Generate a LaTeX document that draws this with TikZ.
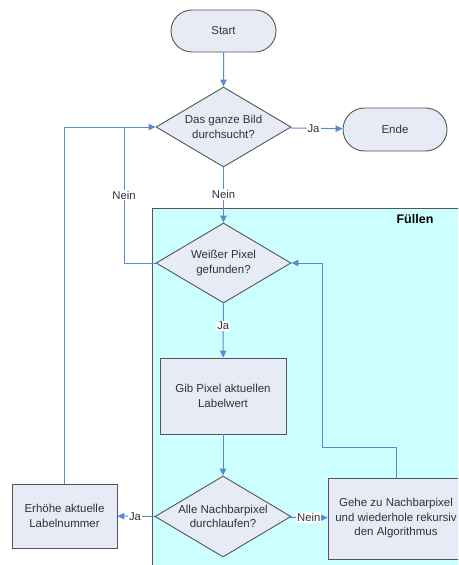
\documentclass[tikz,border=0pt]{standalone}
\usepackage{fontspec}
\setmainfont{Liberation Sans}
\usetikzlibrary{arrows.meta,shapes.geometric,shapes.misc}
\definecolor{boxfill}{HTML}{E6EBF5}
\definecolor{boxdraw}{HTML}{555555}
\definecolor{flowblue}{HTML}{5A8AD2}
\definecolor{fuellcyan}{HTML}{CCFFFF}
\tikzset{
  base/.style={draw=boxdraw, fill=boxfill, line width=.9pt, align=center,
    text=black!80, font=\fontsize{11.5}{14.5}\selectfont, inner sep=0pt},
  terminal/.style={base, rounded rectangle, minimum width=105pt, minimum height=42pt},
  decision/.style={base, diamond, aspect=1.85, minimum width=135pt, minimum height=80pt},
  process/.style={base, rectangle},
  flow/.style={-{Triangle[length=7pt,width=6.5pt]}, draw=flowblue, line width=1pt},
  flowline/.style={draw=flowblue, line width=1pt},
  edgelabel/.style={fill=white, inner sep=1pt, text=black!80,
    font=\fontsize{11.3}{14}\selectfont},
}

\begin{document}
\begin{tikzpicture}[x=1pt, y=-1pt]

\clip (0,0) rectangle (458,565);

%%%%%%%%%%%%%%
% Fuellen frame
%%%%%%%%%%%%%%
\draw [fill=fuellcyan, draw=boxdraw, line width=.9pt] (152,208) rectangle (475,580);
\node (fuellen) at (415,219) {\fontsize{12.5}{15}\selectfont\bfseries Füllen};

%%%%%%%%%%%%%%
% Nodes
%%%%%%%%%%%%%%
  \node [terminal] (start) at (223.5,31) {Start};
  \node [decision] (suche) at (223.5,127) {Das ganze Bild\\durchsucht?};
  \node [terminal, minimum width=104pt, minimum height=43pt] (ende) at (395,129.5) {Ende};

  \node [decision] (weiss) at (223.5,263) {Weißer Pixel\\gefunden?};
  \node [process, minimum width=126pt, minimum height=76pt] (gib) at (223,396)
        {Gib Pixel aktuellen\\Labelwert};
  \node [decision, minimum width=136pt, minimum height=81pt] (alle) at (223,516.5)
        {Alle Nachbarpixel\\durchlaufen?};

  \node [process, minimum width=105pt, minimum height=64pt] (erhoehe) at (64.5,516)
        {Erhöhe aktuelle\\Labelnummer};
  \node [process, minimum width=136pt, minimum height=81pt] (gehe) at (396,518.5)
        {Gehe zu Nachbarpixel\\und wiederhole rekursiv\\den Algorithmus};

  % points
  \coordinate (knick) at (322,447);
  \coordinate (links) at (124,127);

%%%%%%%%%%%%%%
% Connectors
%%%%%%%%%%%%%%
  \draw [flow] (start) -- (suche);
  \draw [flow] (suche) -- node [edgelabel, pos=.45] {Ja} (ende);
  \draw [flow] (suche) -- node [edgelabel, pos=.49] {Nein} (weiss);
  \draw [flow] (weiss) -- node [edgelabel, pos=.42] {Ja} (gib);
  \draw [flow] (gib) -- (alle);
  \draw [flow] (alle) -- node [edgelabel, pos=.53] {Ja} (erhoehe);
  \draw [flow] (alle) -- node [edgelabel, pos=.5] {Nein} (gehe);

  % loops back
  \draw [flow] (gehe.north) |- (knick) |- (weiss.east);
  \draw [flow] (erhoehe.north) |- (suche.west);
  \draw [flowline] (weiss.west) -| node [edgelabel, pos=.75] {Nein} (links);

\end{tikzpicture}
\end{document}
